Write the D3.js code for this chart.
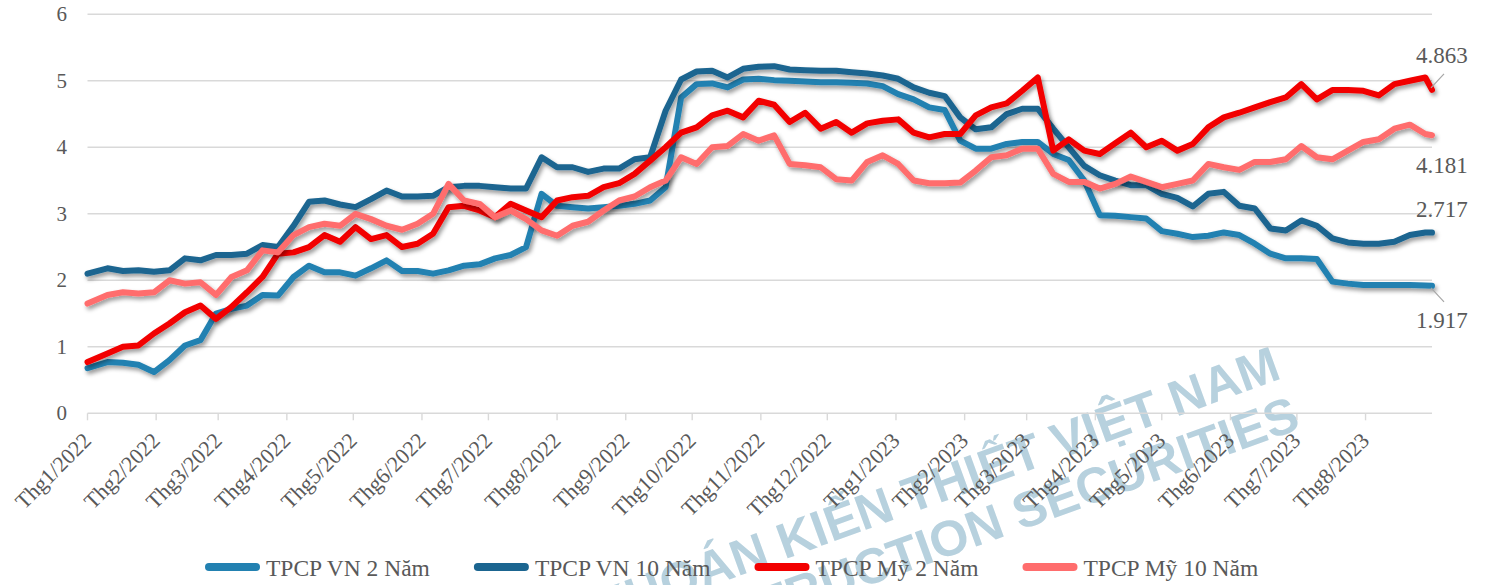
<!DOCTYPE html>
<html>
<head>
<meta charset="utf-8">
<script src="https://cdn.jsdelivr.net/npm/d3@7"></script>
<style>
  body { margin: 0; background: #fff; }
  text { font-family: "Liberation Serif", "Times New Roman", serif; fill: #595959; }
</style>
</head>
<body>
<script>
(function() {
    // weekly observations: Jan 1 2022, every Monday from Jan 10 2022 to Aug 28 2023, then Aug 31 2023
    const dates = [new Date(2022, 0, 1)]
        .concat(d3.timeMonday.range(new Date(2022, 0, 10), new Date(2023, 7, 29)))
        .concat([new Date(2023, 7, 31)]);

    const vn2 = [0.68, 0.77, 0.76, 0.73, 0.62, 0.80, 1.02, 1.10, 1.50, 1.57, 1.62, 1.78, 1.77, 2.05, 2.22, 2.12,
                 2.12, 2.07, 2.18, 2.30, 2.14, 2.14, 2.10, 2.15, 2.22, 2.24, 2.33, 2.38, 2.50, 3.30, 3.12, 3.10,
                 3.08, 3.10, 3.12, 3.15, 3.20, 3.40, 4.75, 4.95, 4.96, 4.90, 5.02, 5.03, 5.01, 5.00, 4.99, 4.98,
                 4.98, 4.97, 4.96, 4.92, 4.80, 4.72, 4.60, 4.56, 4.10, 3.98, 3.98, 4.05, 4.08, 4.08, 3.90, 3.81,
                 3.50, 2.98, 2.97, 2.95, 2.93, 2.74, 2.70, 2.65, 2.67, 2.72, 2.68, 2.55, 2.40, 2.33, 2.33, 2.32,
                 1.98, 1.95, 1.93, 1.93, 1.93, 1.93, 1.92, 1.917];

    const vn10 = [2.10, 2.18, 2.14, 2.15, 2.13, 2.15, 2.33, 2.30, 2.38, 2.38, 2.40, 2.53, 2.50, 2.82, 3.18, 3.20,
                  3.14, 3.10, 3.22, 3.35, 3.26, 3.26, 3.27, 3.40, 3.42, 3.42, 3.40, 3.38, 3.38, 3.85, 3.70, 3.70,
                  3.63, 3.68, 3.68, 3.82, 3.85, 4.55, 5.02, 5.14, 5.15, 5.05, 5.18, 5.21, 5.22, 5.17, 5.16, 5.15,
                  5.15, 5.13, 5.11, 5.08, 5.03, 4.90, 4.82, 4.77, 4.45, 4.27, 4.30, 4.50, 4.58, 4.58, 4.28, 4.00,
                  3.72, 3.58, 3.50, 3.43, 3.43, 3.30, 3.24, 3.11, 3.30, 3.33, 3.12, 3.08, 2.78, 2.75, 2.90, 2.82,
                  2.63, 2.57, 2.55, 2.55, 2.58, 2.68, 2.72, 2.717];

    const us2 = [0.77, 0.90, 1.00, 1.02, 1.20, 1.35, 1.52, 1.62, 1.42, 1.60, 1.82, 2.05, 2.40, 2.42, 2.50, 2.68,
                 2.58, 2.80, 2.62, 2.68, 2.50, 2.55, 2.70, 3.10, 3.12, 3.05, 2.95, 3.15, 3.05, 2.95, 3.20, 3.25,
                 3.27, 3.40, 3.46, 3.60, 3.80, 4.00, 4.22, 4.30, 4.48, 4.55, 4.45, 4.70, 4.64, 4.38, 4.52, 4.28,
                 4.38, 4.22, 4.36, 4.40, 4.42, 4.22, 4.15, 4.20, 4.20, 4.48, 4.60, 4.66, 4.85, 5.05, 3.95, 4.12,
                 3.95, 3.90, 4.06, 4.22, 4.00, 4.10, 3.95, 4.05, 4.30, 4.45, 4.52, 4.60, 4.68, 4.75, 4.95, 4.72,
                 4.86, 4.86, 4.85, 4.78, 4.95, 5.00, 5.05, 4.863];

    const us10 = [1.65, 1.78, 1.82, 1.80, 1.82, 2.00, 1.95, 1.97, 1.78, 2.05, 2.15, 2.45, 2.42, 2.68, 2.80, 2.85,
                  2.82, 3.00, 2.92, 2.82, 2.76, 2.85, 3.00, 3.45, 3.20, 3.15, 2.95, 3.05, 2.92, 2.75, 2.67, 2.82,
                  2.88, 3.05, 3.20, 3.26, 3.40, 3.50, 3.85, 3.75, 4.00, 4.02, 4.20, 4.10, 4.18, 3.75, 3.73, 3.70,
                  3.52, 3.50, 3.78, 3.88, 3.75, 3.50, 3.46, 3.46, 3.47, 3.65, 3.85, 3.88, 3.98, 3.98, 3.60, 3.48,
                  3.48, 3.38, 3.45, 3.56, 3.48, 3.40, 3.45, 3.50, 3.75, 3.70, 3.66, 3.78, 3.78, 3.82, 4.02, 3.85,
                  3.82, 3.95, 4.08, 4.12, 4.28, 4.34, 4.20, 4.181];

    const seriesNames = ['TPCP VN 2 Năm', 'TPCP VN 10 Năm', 'TPCP Mỹ 2 Năm', 'TPCP Mỹ 10 Năm'];
    const seriesColors = ['#2281b1', '#1b6590', '#f20000', '#ff6d6d'];
    const yTicks = [0, 1, 2, 3, 4, 5, 6];
    const watermarkLines = ['CHỨNG KHOÁN KIẾN THIẾT VIỆT NAM', 'CONSTRUCTION SECURITIES'];

    const width = 1487,
          height = 585,
          left = 87.5,
          right = 1432,
          top = 14.3,
          bottom = 413.3;

    const series = [vn2, vn10, us2, us10].map((vals, i) => ({
        name: seriesNames[i],
        color: seriesColors[i],
        points: vals.map((v, j) => ({ date: dates[j], value: v }))
    }));

    const x = d3.scaleTime()
                .domain([new Date(2022, 0, 1), new Date(2023, 7, 31)])
                .range([left, right]);

    const y = d3.scaleLinear()
                .domain([0, 6])
                .range([bottom, top]);

    const svg = d3.select('body')
                  .append('svg')
                  .attr('width', width)
                  .attr('height', height);

    svg.append('rect').attr('width', width).attr('height', height).attr('fill', '#fff');

    let defs = svg.append('defs');
    defs.append('filter')
        .attr('id', 'shadow')
        .attr('x', '-5%').attr('y', '-20%').attr('width', '110%').attr('height', '140%')
        .append('feDropShadow')
        .attr('dx', 2).attr('dy', 3)
        .attr('stdDeviation', 2)
        .attr('flood-color', '#000')
        .attr('flood-opacity', 0.4);

    // watermark, drawn first so everything else sits on top of it
    svg.append('g')
       .selectAll('text')
       .data(watermarkLines)
       .enter()
       .append('text')
       .attr('transform', (d, i) => i === 0 ? 'translate(1283,378) rotate(-20)' : 'translate(1302,428) rotate(-20)')
       .attr('text-anchor', 'end')
       .style('font-family', '"Liberation Sans", Arial, sans-serif')
       .style('font-weight', 'bold')
       .style('font-size', '50px')
       .style('fill', '#b7d1de')
       .text(d => d);

    // gridlines and y labels
    svg.append('g')
       .selectAll('line')
       .data(yTicks)
       .enter()
       .append('line')
       .attr('x1', left).attr('x2', right)
       .attr('y1', d => y(d)).attr('y2', d => y(d))
       .attr('stroke', '#d9d9d9')
       .attr('stroke-width', 1.4);

    svg.append('g')
       .selectAll('text')
       .data(yTicks)
       .enter()
       .append('text')
       .attr('x', 67)
       .attr('y', d => y(d))
       .attr('dy', '0.34em')
       .attr('text-anchor', 'end')
       .style('font-size', '21px')
       .text(d => d);

    // month ticks on the x axis
    const months = d3.timeMonth.range(new Date(2022, 0, 1), new Date(2023, 8, 1));
    const monthLabel = d => 'Thg' + (d.getMonth() + 1) + '/' + d.getFullYear();

    svg.append('g')
       .selectAll('line')
       .data(months)
       .enter()
       .append('line')
       .attr('x1', d => x(d)).attr('x2', d => x(d))
       .attr('y1', bottom).attr('y2', bottom + 7)
       .attr('stroke', '#d9d9d9')
       .attr('stroke-width', 1.4);

    svg.append('g')
       .selectAll('text')
       .data(months)
       .enter()
       .append('text')
       .attr('transform', d => 'translate(' + (x(d) + 5) + ',442) rotate(-45)')
       .attr('text-anchor', 'end')
       .style('font-size', '22px')
       .text(monthLabel);

    // series lines
    let line = d3.line()
                 .x(d => x(d.date))
                 .y(d => y(d.value));

    svg.append('g')
       .selectAll('path')
       .data(series)
       .enter()
       .append('path')
       .attr('d', d => line(d.points))
       .attr('fill', 'none')
       .attr('stroke', d => d.color)
       .attr('stroke-width', 6)
       .attr('stroke-linejoin', 'round')
       .attr('stroke-linecap', 'round')
       .attr('filter', 'url(#shadow)');

    // end labels
    const labelOffsets = [42, -16, -27, 38];
    series.forEach((s, i) => {
        let last = s.points[s.points.length - 1];
        svg.append('text')
           .attr('x', 1416)
           .attr('y', y(last.value) + labelOffsets[i])
           .style('font-size', '23px')
           .text(last.value.toFixed(3));
    });

    // leader lines for the two labels sitting away from their points
    [[0, 1], [2, -1]].forEach(([i, dir]) => {
        let last = series[i].points[series[i].points.length - 1];
        svg.append('line')
           .attr('x1', x(last.date) - 1).attr('y1', y(last.value) + dir * 2)
           .attr('x2', 1444).attr('y2', y(last.value) + dir * 16)
           .attr('stroke', '#a6a6a6')
           .attr('stroke-width', 1.2);
    });

    // legend
    let lx = 205;
    series.forEach(s => {
        let g = svg.append('g').attr('transform', 'translate(' + lx + ',567)');
        g.append('line')
         .attr('x1', 4).attr('x2', 51)
         .attr('stroke', s.color)
         .attr('stroke-width', 8)
         .attr('stroke-linecap', 'round');
        let t = g.append('text')
                 .attr('x', 61)
                 .attr('y', 9)
                 .style('font-size', '23.5px')
                 .text(s.name);
        lx += 61 + t.node().getComputedTextLength() + 44;
    });
})();
</script>
</body>
</html>
